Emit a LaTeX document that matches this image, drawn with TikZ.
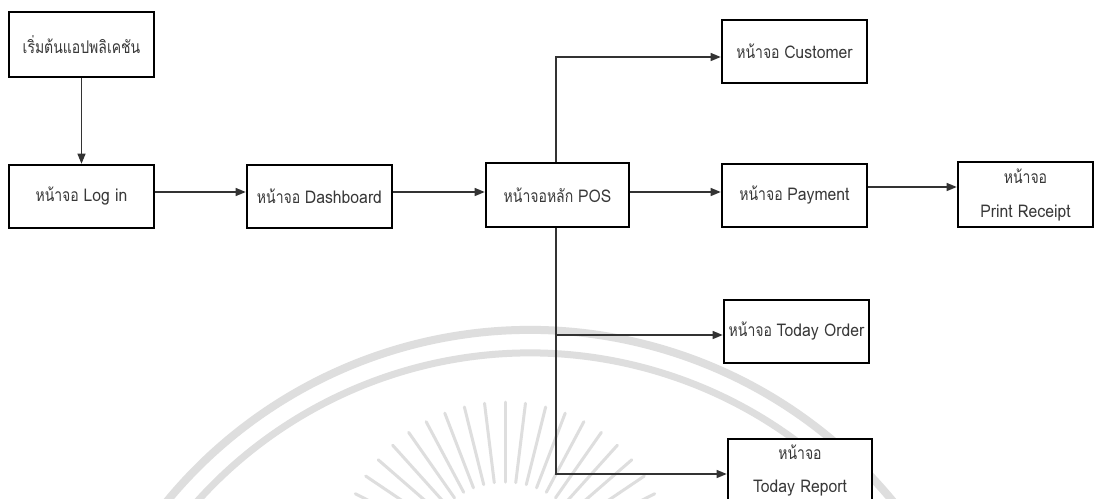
\documentclass[tikz,border=0pt]{standalone}
\usepackage{fontspec}
\setmainfont[Script=Thai,FakeStretch=0.8]{Loma}
\newfontfamily\lat[FakeStretch=0.9]{Loma}
\usetikzlibrary{arrows.meta}
\begin{document}
\begin{tikzpicture}[x=1pt,y=-1pt,
  box/.style={draw=black,line width=2.6pt,fill=white,minimum width=145pt,minimum height=63pt,inner sep=0pt,align=center,font=\fontsize{17.5}{20}\selectfont,text=black!78},
  arr/.style={draw=black!80,line width=1.2pt,-{Triangle[length=10pt,width=8pt]}},
  wm/.style={draw=black!13,line cap=round}]
\useasboundingbox[fill=white] (0,0) rectangle (1094,498);
% watermark
\begin{scope}
\clip (0,0) rectangle (1094,498);
\draw[wm,line width=8pt] (530,800) ++(-160:470) arc[start angle=-160,end angle=-20,radius=470];
\draw[wm,line width=7pt] (530,800) ++(-160:447) arc[start angle=-160,end angle=-20,radius=447];
\foreach \a in {20,27,...,160}{
  \draw[wm,line width=3pt] (505,570) ++(\a:-88) -- ++(\a:-80);
}
\end{scope}
% nodes
\node[box,minimum height=65pt] (start) at (81.5,44.5) {เริ่มต้นแอปพลิเคชัน};
\node[box] (login) at (81.5,196.5) {หน้าจอ {\lat Log in}};
\node[box] (dash) at (319.5,196.5) {หน้าจอ {\lat Dashboard}};
\node[box,minimum width=143pt,minimum height=64pt] (pos) at (557.5,195) {หน้าจอหลัก {\lat POS}};
\node[box] (cust) at (794.5,51.5) {หน้าจอ {\lat Customer}};
\node[box] (pay) at (794.5,195.5) {หน้าจอ {\lat Payment}};
\node[box,minimum width=135pt,minimum height=65pt] (print) at (1025.5,194.5) {หน้าจอ\\[14pt]{\lat Print Receipt}};
\node[box] (order) at (796.5,331.5) {หน้าจอ {\lat Today Order}};
\node[box,minimum width=144pt] (report) at (800,470.5) {หน้าจอ\\[13pt]{\lat Today Report}};
% connectors
\draw[arr] (start.south) -- (login.north);
\draw[arr] ([yshift=4.5pt]login.east) -- ([yshift=4.5pt]dash.west);
\draw[arr] ([yshift=4.5pt]dash.east) -- ([yshift=3pt]pos.west);
\draw[arr] ([yshift=3pt]pos.east) -- ([yshift=3.5pt]pay.west);
\draw[arr] ([xshift=-1.5pt]pos.north) |- ([yshift=-5.5pt]cust.west);
\draw[arr] ([yshift=8.5pt]pay.east) -- ([yshift=8.5pt]pay.east -| print.west);
\draw[arr] ([xshift=-1.5pt]pos.south) |- ([yshift=-3.5pt]order.west);
\draw[arr] ([xshift=-1.5pt]pos.south) |- ([yshift=-3.5pt]report.west);
\end{tikzpicture}
\end{document}
